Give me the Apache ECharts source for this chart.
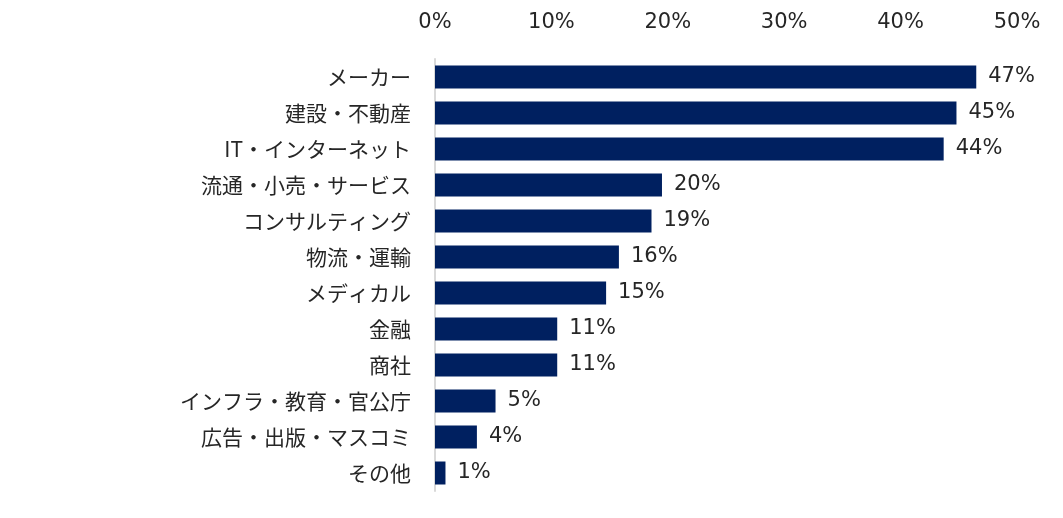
<!DOCTYPE html>
<html>
<head>
<meta charset="utf-8">
<script src="https://cdn.jsdelivr.net/npm/echarts@6/dist/echarts.min.js"></script>
<style>
  html, body { margin: 0; padding: 0; background: #fff; }
  #main { width: 1063px; height: 518px; }
</style>
</head>
<body>
<div id="main"></div>
<script>
// 業種（上から順）
var categories = ['メーカー', '建設・不動産', 'IT・インターネット', '流通・小売・サービス',
  'コンサルティング', '物流・運輸', 'メディカル', '金融', '商社',
  'インフラ・教育・官公庁', '広告・出版・マスコミ', 'その他'];
// 割合（%）
var values = [46.5, 44.8, 43.7, 19.5, 18.6, 15.8, 14.7, 10.5, 10.5, 5.2, 3.6, 0.9];
var tickMax = 50;
var tickStep = 10;

var numFont = '"DejaVu Sans", "Noto Sans CJK JP", sans-serif';
var jpFont = '"Noto Sans CJK JP", "DejaVu Sans", sans-serif';
var myChart = echarts.init(document.getElementById('main'));

option = {
  backgroundColor: '#fff',
  animation: false,
  grid: {
    left: 435,
    right: 46,
    top: 59,
    bottom: 27
  },
  xAxis: {
    type: 'value',
    position: 'top',
    min: 0,
    max: tickMax,
    interval: tickStep,
    axisLine: { show: false },
    axisTick: { show: false },
    splitLine: { show: false },
    axisLabel: {
      margin: 26,
      color: '#262626',
      fontSize: 21,
      fontFamily: numFont,
      formatter: '{value}%'
    }
  },
  yAxis: {
    type: 'category',
    inverse: true,
    data: categories,
    axisLine: { show: true, lineStyle: { color: '#d9d9d9', width: 2 } },
    axisTick: { show: false },
    axisLabel: {
      margin: 24,
      color: '#262626',
      fontSize: 21,
      fontFamily: jpFont
    }
  },
  series: [
    {
      type: 'bar',
      data: values,
      barWidth: 23,
      itemStyle: { color: '#002060' },
      label: {
        show: true,
        position: 'right',
        distance: 12,
        color: '#262626',
        fontSize: 21,
        fontFamily: numFont,
        formatter: function (p) {
          return Math.round(p.value) + '%';
        }
      }
    }
  ]
};
myChart.setOption(option);
</script>
</body>
</html>
